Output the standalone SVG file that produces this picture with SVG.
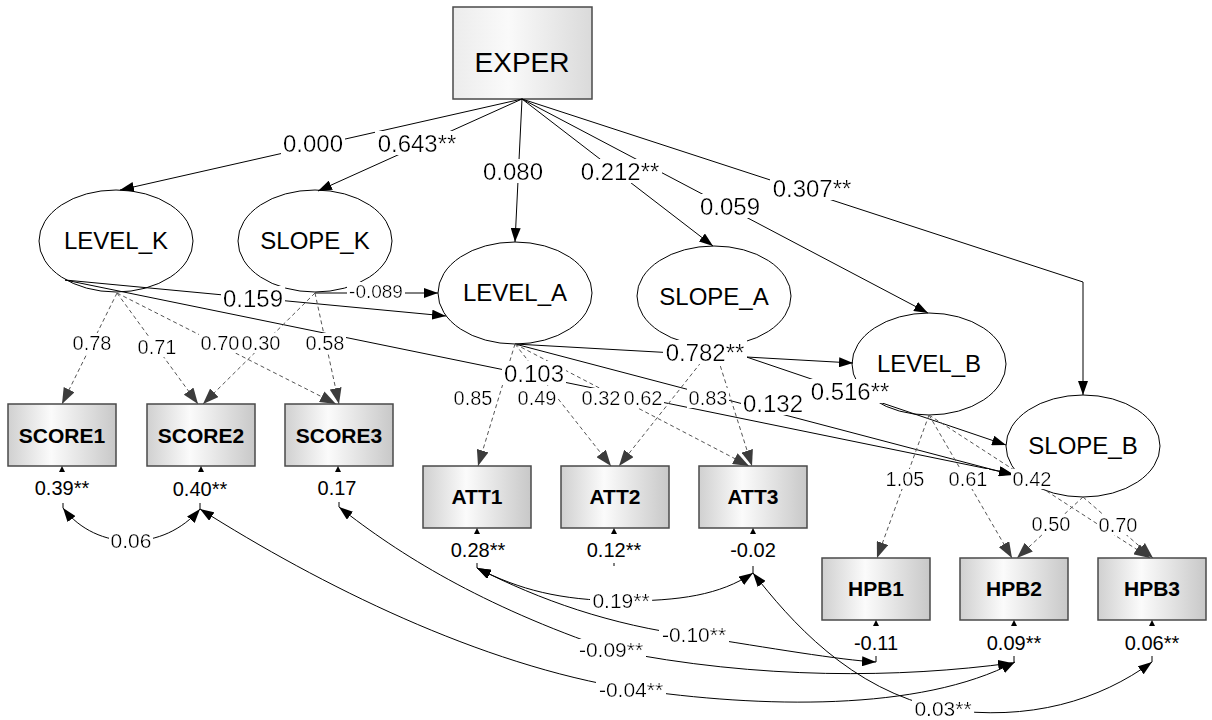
<svg xmlns="http://www.w3.org/2000/svg" width="1212" height="720" viewBox="0 0 1212 720">
<defs>
<style>
text{font-family:"Liberation Sans",Arial,Helvetica,sans-serif;fill:#000;text-anchor:middle}
.lat{fill:#fff;stroke:#000;stroke-width:1}
.obs{fill:url(#gObs);stroke:#4a4a4a;stroke-width:1.5}
.nt{font-size:24px}
.bt{font-size:21px;font-weight:bold}
.path{fill:none;stroke:#000;stroke-width:1;marker-end:url(#ah)}
.load{fill:none;stroke:#555;stroke-width:1;stroke-dasharray:4 3;marker-end:url(#ahg)}
.cov{fill:none;stroke:#000;stroke-width:1;marker-start:url(#ahc);marker-end:url(#ahc)}
.tick{stroke:#000;stroke-width:1}
.ra{fill:#000}
.lb{filter:url(#wb)}
.f24{font-size:24px}
.f21{font-size:21px}
.f20{font-size:20px}
.f19{font-size:19px}
</style>
<linearGradient id="gObs" x1="0" y1="0" x2="1" y2="0">
<stop offset="0" stop-color="#d0d0d0"/>
<stop offset="0.4" stop-color="#fbfbfb"/>
<stop offset="1" stop-color="#c8c8c8"/>
</linearGradient>
<linearGradient id="gExo" x1="0" y1="0" x2="1" y2="0">
<stop offset="0" stop-color="#ececec"/>
<stop offset="0.4" stop-color="#fafafa"/>
<stop offset="1" stop-color="#dadada"/>
</linearGradient>
<filter id="wb" x="-0.03" y="0.06" width="1.06" height="0.86">
<feFlood flood-color="#fff" result="bg"/>
<feMerge><feMergeNode in="bg"/><feMergeNode in="SourceGraphic"/></feMerge>
</filter>
<marker id="ah" markerUnits="userSpaceOnUse" markerWidth="14" markerHeight="10" refX="14" refY="5" orient="auto">
<path d="M0,0L14,5L0,10z" fill="#000"/>
</marker>
<marker id="ahg" markerUnits="userSpaceOnUse" markerWidth="16" markerHeight="12" refX="16" refY="6" orient="auto">
<path d="M0,0L16,6L0,12z" fill="#3c3c3c"/>
</marker>
<marker id="ahc" markerUnits="userSpaceOnUse" markerWidth="14" markerHeight="10" refX="14" refY="5" orient="auto-start-reverse">
<path d="M0,0L14,5L0,10z" fill="#000"/>
</marker>
</defs>

<rect width="1212" height="720" fill="#fff"/>

<!-- exogenous predictor -->
<g id="EXPER">
<rect x="453" y="7" width="139" height="92" fill="url(#gExo)" stroke="#4a4a4a" stroke-width="1.5"/>
<text x="522" y="72" style="font-size:28px">EXPER</text>
</g>

<!-- growth factors -->
<g id="LEVEL_K"><ellipse class="lat" cx="116" cy="241" rx="77" ry="51"/><text class="nt" x="116" y="249">LEVEL_K</text></g>
<g id="SLOPE_K"><ellipse class="lat" cx="315" cy="241" rx="77" ry="51"/><text class="nt" x="315" y="249">SLOPE_K</text></g>
<g id="LEVEL_A"><ellipse class="lat" cx="515" cy="293" rx="77" ry="51"/><text class="nt" x="515" y="301">LEVEL_A</text></g>
<g id="SLOPE_A"><ellipse class="lat" cx="714" cy="296" rx="77" ry="50"/><text class="nt" x="714" y="305">SLOPE_A</text></g>
<g id="LEVEL_B"><ellipse class="lat" cx="929" cy="364" rx="77" ry="51"/><text class="nt" x="929" y="372">LEVEL_B</text></g>
<g id="SLOPE_B"><ellipse class="lat" cx="1083" cy="446" rx="77" ry="51"/><text class="nt" x="1083" y="454">SLOPE_B</text></g>

<!-- observed indicators -->
<g id="SCORE1"><rect class="obs" x="8" y="404" width="108" height="62"/><text class="bt" x="62" y="443">SCORE1</text></g>
<g id="SCORE2"><rect class="obs" x="147" y="404" width="108" height="62"/><text class="bt" x="201" y="443">SCORE2</text></g>
<g id="SCORE3"><rect class="obs" x="285" y="404" width="108" height="62"/><text class="bt" x="339" y="443">SCORE3</text></g>
<g id="ATT1"><rect class="obs" x="423" y="466" width="108" height="62"/><text class="bt" x="477" y="504">ATT1</text></g>
<g id="ATT2"><rect class="obs" x="561" y="466" width="108" height="62"/><text class="bt" x="615" y="504">ATT2</text></g>
<g id="ATT3"><rect class="obs" x="699" y="466" width="108" height="62"/><text class="bt" x="753" y="504">ATT3</text></g>
<g id="HPB1"><rect class="obs" x="822" y="558" width="108" height="62"/><text class="bt" x="876" y="596">HPB1</text></g>
<g id="HPB2"><rect class="obs" x="960" y="558" width="108" height="62"/><text class="bt" x="1014" y="596">HPB2</text></g>
<g id="HPB3"><rect class="obs" x="1098" y="558" width="108" height="62"/><text class="bt" x="1152" y="596">HPB3</text></g>

<g id="connectors">
<!-- EXPER effects -->
<path class="path" d="M522,99L120,190"/>
<path class="path" d="M522,99L318,191"/>
<path class="path" d="M522,99L515,242"/>
<path class="path" d="M522,99L713,246"/>
<path class="path" d="M522,99L928,313"/>
<path class="path" d="M522,99L1083,282L1083,395"/>
<!-- structural paths among growth factors -->
<path class="path" d="M65,280L446,316"/>
<path class="path" d="M315,293L438,293"/>
<path class="path" d="M65,280L1013,474"/>
<path class="path" d="M515,344L853,363"/>
<path class="path" d="M515,344L1013,475"/>
<path class="path" d="M714,346L1006,445"/>
<!-- factor loadings -->
<path class="load" d="M117,293L62,404"/>
<path class="load" d="M117,293L198,404"/>
<path class="load" d="M117,293L336,404"/>
<path class="load" d="M315,293L203,404"/>
<path class="load" d="M315,293L339,404"/>
<path class="load" d="M515,344L478,466"/>
<path class="load" d="M515,344L611,466"/>
<path class="load" d="M515,344L749,466"/>
<path class="load" d="M714,346L619,466"/>
<path class="load" d="M714,346L752,466"/>
<path class="load" d="M929,415L877,558"/>
<path class="load" d="M929,415L1012,558"/>
<path class="load" d="M929,415L1150,558"/>
<path class="load" d="M1083,497L1017,558"/>
<path class="load" d="M1083,497L1153,558"/>
<!-- residual arrows into indicators -->
<path class="ra" d="M62,466l-3,6h6z"/>
<path class="ra" d="M201,466l-3,6h6z"/>
<path class="ra" d="M338,466l-3,6h6z"/>
<path class="ra" d="M477,528l-3,6h6z"/>
<path class="ra" d="M614,528l-3,6h6z"/>
<path class="ra" d="M753,528l-3,6h6z"/>
<path class="ra" d="M876,620l-3,6h6z"/>
<path class="ra" d="M1014,620l-3,6h6z"/>
<path class="ra" d="M1152,620l-3,6h6z"/>
<!-- residual anchor ticks -->
<path class="tick" d="M63,503v5M200,503v6M339,502v5M477,563v5M614,563v3M753,566v7M876,656v6M1014,656v6M1152,656v6"/>
<!-- residual covariances -->
<path class="cov" d="M63,508C80,530 105,541 131,541C157,541 182,530 200,509"/>
<path class="cov" d="M200,509C320,585 480,665 631,689C760,708 920,712 1015,662"/>
<path class="cov" d="M339,507C400,555 480,605 611,650C760,680 900,678 1012,663"/>
<path class="cov" d="M477,568C520,590 560,600 621,601C680,601 720,595 753,573"/>
<path class="cov" d="M477,568C540,600 610,625 694,636C770,648 840,660 876,662"/>
<path class="cov" d="M753,573C790,620 850,690 943,709C1030,722 1100,700 1152,662"/>
</g>

<g id="labels">
<text class="lb f24" x="313" y="152">0.000</text>
<text class="lb f24" x="417" y="152">0.643**</text>
<text class="lb f24" x="513" y="180">0.080</text>
<text class="lb f24" x="620" y="180">0.212**</text>
<text class="lb f24" x="730" y="215">0.059</text>
<text class="lb f24" x="812" y="197">0.307**</text>
<text class="lb f24" x="253" y="307">0.159</text>
<text class="lb f19" x="376" y="298">-0.089</text>
<text class="lb f24" x="534" y="382">0.103</text>
<text class="lb f24" x="705" y="361">0.782**</text>
<text class="lb f24" x="773" y="412">0.132</text>
<text class="lb f24" x="850" y="400">0.516**</text>
<text class="lb f20" x="92" y="350">0.78</text>
<text class="lb f20" x="157" y="354">0.71</text>
<text class="lb f20" x="220" y="350">0.70</text>
<text class="lb f20" x="261" y="350">0.30</text>
<text class="lb f20" x="325" y="350">0.58</text>
<text class="lb f20" x="473" y="405">0.85</text>
<text class="lb f20" x="537" y="405">0.49</text>
<text class="lb f20" x="601" y="405">0.32</text>
<text class="lb f20" x="643" y="405">0.62</text>
<text class="lb f20" x="708" y="405">0.83</text>
<text class="lb f20" x="905" y="486">1.05</text>
<text class="lb f20" x="968" y="486">0.61</text>
<text class="lb f20" x="1032" y="486">0.42</text>
<text class="lb f20" x="1051" y="531">0.50</text>
<text class="lb f20" x="1118" y="532">0.70</text>
<text class="f20" x="62" y="495">0.39**</text>
<text class="f20" x="200" y="496">0.40**</text>
<text class="f20" x="337" y="495">0.17</text>
<text class="f20" x="478" y="557">0.28**</text>
<text class="f20" x="614" y="557">0.12**</text>
<text class="f20" x="753" y="557">-0.02</text>
<text class="f20" x="876" y="650">-0.11</text>
<text class="f20" x="1014" y="650">0.09**</text>
<text class="f20" x="1152" y="650">0.06**</text>
<text class="lb f21" x="131" y="548">0.06</text>
<text class="lb f21" x="621" y="608">0.19**</text>
<text class="lb f21" x="694" y="642">-0.10**</text>
<text class="lb f21" x="611" y="657">-0.09**</text>
<text class="lb f21" x="631" y="697">-0.04**</text>
<text class="lb f21" x="943" y="716">0.03**</text>
</g>
</svg>
